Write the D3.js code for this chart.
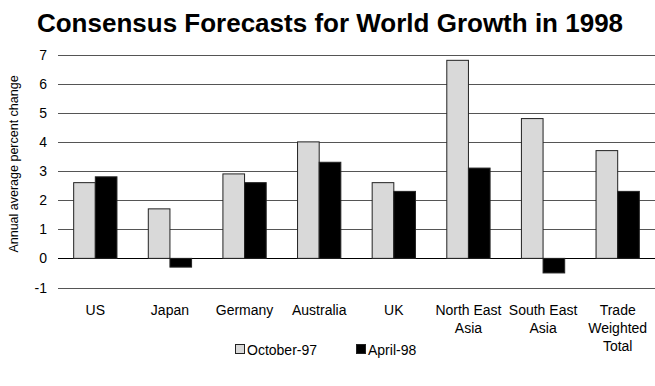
<!DOCTYPE html>
<html><head><meta charset="utf-8">
<script src="https://cdn.jsdelivr.net/npm/d3@7"></script>
<style>body{margin:0;background:#fff}svg{display:block;font-family:"Liberation Sans",Arial,sans-serif}</style>
</head><body>
<svg id="c" width="655" height="386"></svg>
<script>
const categories = ["US","Japan","Germany","Australia","UK","North East\nAsia","South East\nAsia","Trade\nWeighted\nTotal"];
const seriesNames = ["October-97","April-98"];
const oct97 = [2.6,1.7,2.9,4.0,2.6,6.8,4.8,3.7];
const apr98 = [2.8,-0.3,2.6,3.3,2.3,3.1,-0.5,2.3];
const yTicks = [-1,0,1,2,3,4,5,6,7];
const colors = ["#d9d9d9","#000000"];

const svg = d3.select("#c");
const x = d3.scaleBand().domain(d3.range(categories.length)).range([58,655]).paddingInner(0.42).paddingOuter(0.21);
const x1 = d3.scaleBand().domain([0,1]).range([0,x.bandwidth()]);
const y = d3.scaleLinear().domain([-1,7]).range([287.5,54.5]);

svg.append("text").attr("x",330).attr("y",32).attr("text-anchor","middle")
  .attr("font-size",26).attr("font-weight","bold").text("Consensus Forecasts for World Growth in 1998");

// gridlines
svg.append("g").selectAll("line").data(yTicks).join("line")
  .attr("x1",58).attr("x2",655).attr("y1",d=>Math.round(y(d))+0.5).attr("y2",d=>Math.round(y(d))+0.5)
  .attr("stroke",d=>d===0?"#000":"#555").attr("stroke-width",1);

// y tick labels
svg.append("g").selectAll("text").data(yTicks).join("text")
  .attr("x",47).attr("y",d=>y(d)+5).attr("text-anchor","end").attr("font-size",14).text(d=>d);

svg.append("text").attr("transform","translate(18,164) rotate(-90)").attr("text-anchor","middle")
  .attr("font-size",12.5).text("Annual average percent change");

const series = [oct97, apr98];
series.forEach((vals,si)=>{
  svg.append("g").selectAll("rect").data(vals).join("rect")
    .attr("x",(d,i)=>x(i)+x1(si)).attr("width",x1.bandwidth())
    .attr("y",d=>y(Math.max(0,d))).attr("height",d=>Math.abs(y(d)-y(0)))
    .attr("fill",colors[si]).attr("stroke","#222").attr("stroke-width",1);
});

// category labels
const cl = svg.append("g").selectAll("text").data(categories).join("text")
  .attr("text-anchor","middle").attr("font-size",14)
  .attr("transform",(d,i)=>`translate(${x(i)+x.bandwidth()/2},315)`);
cl.each(function(d){
  d.split("\n").forEach((line,k)=>{
    d3.select(this).append("tspan").attr("x",0).attr("y",k*18).text(line);
  });
});

// legend
const lg = svg.append("g");
const lx = [235,356];
seriesNames.forEach((n,i)=>{
  lg.append("rect").attr("x",lx[i]+0.5).attr("y",344.5).attr("width",9).attr("height",9)
    .attr("fill",colors[i]).attr("stroke","#222");
  lg.append("text").attr("x",lx[i]+12).attr("y",355).attr("font-size",14).text(n);
});
</script>
</body></html>
